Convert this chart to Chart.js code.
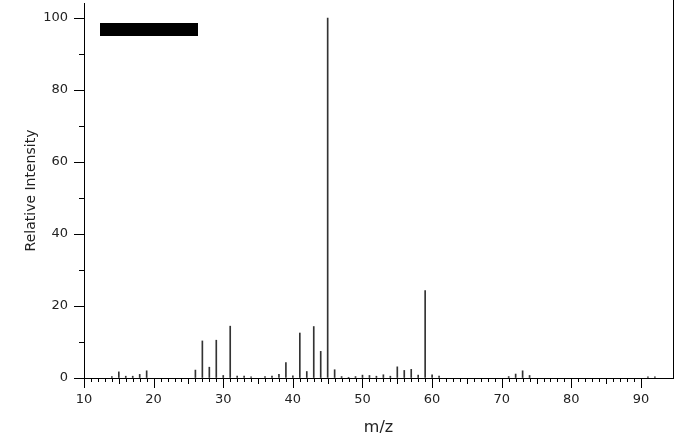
<!DOCTYPE html>
<html>
<head>
<meta charset="utf-8">
<script src="https://cdn.jsdelivr.net/npm/chart.js@4"></script>
<style>
  html, body { margin: 0; padding: 0; background: #fff; }
  #wrap { width: 678px; height: 439px; }
</style>
</head>
<body>
<div id="wrap"><canvas id="spectrum" width="678" height="439"></canvas></div>
<script>
// m/z values and their relative intensities
const mz = [14, 15, 16, 17, 18, 19, 26, 27, 28, 29, 30, 31, 32, 33, 34, 36, 37, 38, 39, 40,
            41, 42, 43, 44, 45, 46, 47, 48, 49, 50, 51, 52, 53, 54, 55, 56, 57, 58, 59, 60,
            61, 71, 72, 73, 74, 91, 92];
const intensity = [0.4, 1.7, 0.5, 0.5, 1.0, 2.0, 2.2, 10.3, 3.0, 10.5, 0.7, 14.4, 0.5, 0.5, 0.3, 0.4, 0.5, 1.0, 4.3, 0.6,
                   12.5, 1.8, 14.3, 7.4, 100, 2.3, 0.4, 0.2, 0.4, 0.8, 0.7, 0.5, 0.9, 0.5, 3.1, 2.1, 2.4, 0.8, 24.3, 0.9,
                   0.5, 0.4, 1.1, 2.0, 0.7, 0.3, 0.3];
const xTickLabels = [10, 20, 30, 40, 50, 60, 70, 80, 90];
const yTickLabels = [0, 20, 40, 60, 80, 100];

const points = mz.map((m, i) => ({ x: m, y: intensity[i] }));

// draws the stepped tick marks, right frame line and the blacked-out label box
const frameTicks = {
  id: 'frameTicks',
  afterDraw(chart) {
    const { ctx, chartArea, scales: { x, y } } = chart;
    ctx.save();
    ctx.strokeStyle = '#000';
    ctx.lineWidth = 1;
    ctx.beginPath();
    for (let v = 10; v <= 90; v++) {
      const px = Math.round(x.getPixelForValue(v)) + 0.5;
      const len = v % 10 === 0 ? 10 : (v % 5 === 0 ? 6 : 4);
      ctx.moveTo(px, chartArea.bottom);
      ctx.lineTo(px, chartArea.bottom + len);
    }
    for (let v = 0; v <= 100; v += 10) {
      const py = Math.round(y.getPixelForValue(v)) + 0.5;
      const len = v % 20 === 0 ? 10 : 5;
      ctx.moveTo(chartArea.left - len, py);
      ctx.lineTo(chartArea.left, py);
    }
    const rx = Math.round(chartArea.right) + 0.5;
    ctx.moveTo(rx, 0);
    ctx.lineTo(rx, chartArea.bottom);
    ctx.stroke();
    ctx.fillStyle = '#000';
    ctx.fillRect(chartArea.left + 16, chartArea.top + 20, 98, 13);
    ctx.restore();
  }
};

const ctx = document.getElementById('spectrum').getContext('2d');
new Chart(ctx, {
  type: 'bar',
  data: {
    datasets: [{
      data: points,
      backgroundColor: '#333',
      borderWidth: 0,
      barThickness: 1
    }]
  },
  options: {
    responsive: false,
    animation: false,
    layout: { padding: { top: 3, right: 5, left: 0, bottom: 0 } },
    plugins: { legend: { display: false }, tooltip: { enabled: false } },
    scales: {
      x: {
        type: 'linear',
        min: 10,
        max: 94.6,
        offset: false,
        afterFit: s => { s.height = 61; s.paddingLeft = 0; s.paddingRight = 0; },
        grid: { drawOnChartArea: false, drawTicks: false, offset: false },
        border: { color: '#000', width: 1 },
        ticks: {
          stepSize: 10,
          includeBounds: false,
          padding: 14,
          color: '#222',
          font: { family: 'DejaVu Sans', size: 13 },
          callback: v => xTickLabels.includes(v) ? String(v) : ''
        },
        title: {
          display: true,
          text: 'm/z',
          color: '#222',
          font: { family: 'DejaVu Sans', size: 16 },
          padding: { top: 0, bottom: 2 }
        }
      },
      y: {
        min: 0,
        max: 104.2,
        afterFit: s => { s.width = 84; s.paddingTop = 0; s.paddingBottom = 0; },
        grid: { drawOnChartArea: false, drawTicks: false },
        border: { color: '#000', width: 1 },
        ticks: {
          stepSize: 10,
          includeBounds: false,
          padding: 16,
          color: '#222',
          font: { family: 'DejaVu Sans', size: 13 },
          callback: v => yTickLabels.includes(v) ? String(v) : ''
        },
        title: {
          display: true,
          text: 'Relative Intensity',
          color: '#222',
          font: { family: 'DejaVu Sans', size: 14 },
          padding: { top: 23, bottom: 0 }
        }
      }
    }
  },
  plugins: [frameTicks]
});
</script>
</body>
</html>
